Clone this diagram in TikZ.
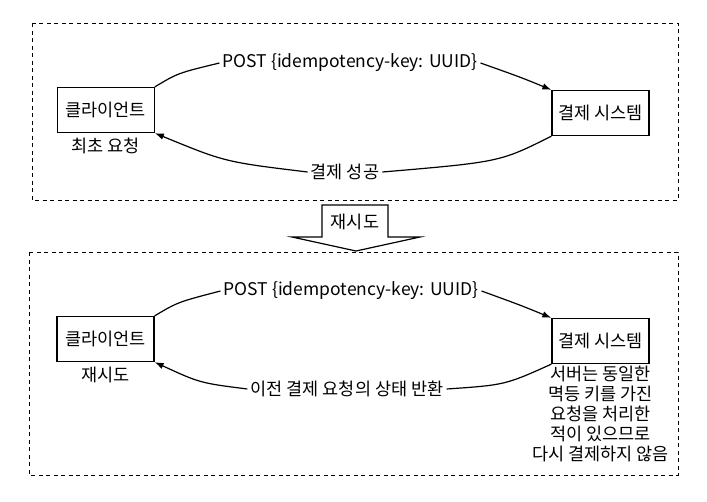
\documentclass[tikz,border=0pt]{standalone}
\usepackage{fontspec}
\setmainfont{Noto Sans CJK KR}
\usetikzlibrary{positioning}
\usetikzlibrary{calc}
\usetikzlibrary{arrows.meta}
\tikzset{
  sysbox/.style={draw, line width=1.3pt, minimum width=97pt, minimum height=45pt, inner sep=2pt},
  stagebox/.style={draw, line width=1pt, dash pattern=on 4pt off 3.5pt},
  msg/.style={inner sep=3pt},
  flow/.style={line width=1.2pt},
  tip/.style={-{Latex[length=9pt,width=6.5pt]}}
}

\begin{document}
\begin{tikzpicture}[x=1pt, y=-1pt, font=\fontsize{17.5}{20}\selectfont]
\useasboundingbox (0,0) rectangle (707,501);

% first request
\draw[stagebox] (32,23) rectangle (678,200);
\node[sysbox] (C1) at (105.75,110) {클라이언트};
\node[sysbox] (S1) at (600.5,113) {결제 시스템};
\node[below = 1pt of C1] (C1n) {최초 요청};

\node[msg] (Q1) at (350,63) {POST \{idempotency-key: UUID\}};
\node[msg] (A1) at (345,172) {결제 성공};

\draw[flow] (C1.north east) .. controls (178,73) .. (Q1.west);
\draw[flow,tip] (Q1.east) .. controls (520,77) .. (S1.north west);
\draw[flow] (S1.south west) .. controls (500,162) .. (A1.east);
\draw[flow,tip] (A1.west) .. controls (225,162) .. (C1.south east);

% retry
\draw[line width=1.2pt] (322,205) -- (388,205) -- (388,237) -- (420,237) -- (356,251) -- (292,237) -- (322,237) -- cycle;
\node (R) at (355,222) {재시도};

% second request
\draw[stagebox] (29,252) rectangle (678,475);
\node[sysbox] (C2) at (105.5,339) {클라이언트};
\node[sysbox] (S2) at (600.5,341) {결제 시스템};
\node[below = 1pt of C2] (C2n) {재시도};
\node[below = 1pt of S2, align=center, inner sep=1pt] (S2n) {서버는 동일한\\멱등 키를 가진\\요청을 처리한\\적이 있으므로\\다시 결제하지 않음};

\node[msg] (Q2) at (351,291) {POST \{idempotency-key: UUID\}};
\node[msg] (A2) at (347,389) {이전 결제 요청의 상태 반환};

\draw[flow] (C2.north east) .. controls (178,302) .. (Q2.west);
\draw[flow,tip] (Q2.east) .. controls (520,305) .. (S2.north west);
\draw[flow] (S2.south west) .. controls (505,385) .. (A2.east);
\draw[flow,tip] (A2.west) .. controls (200,383) .. (C2.south east);

\end{tikzpicture}
\end{document}
